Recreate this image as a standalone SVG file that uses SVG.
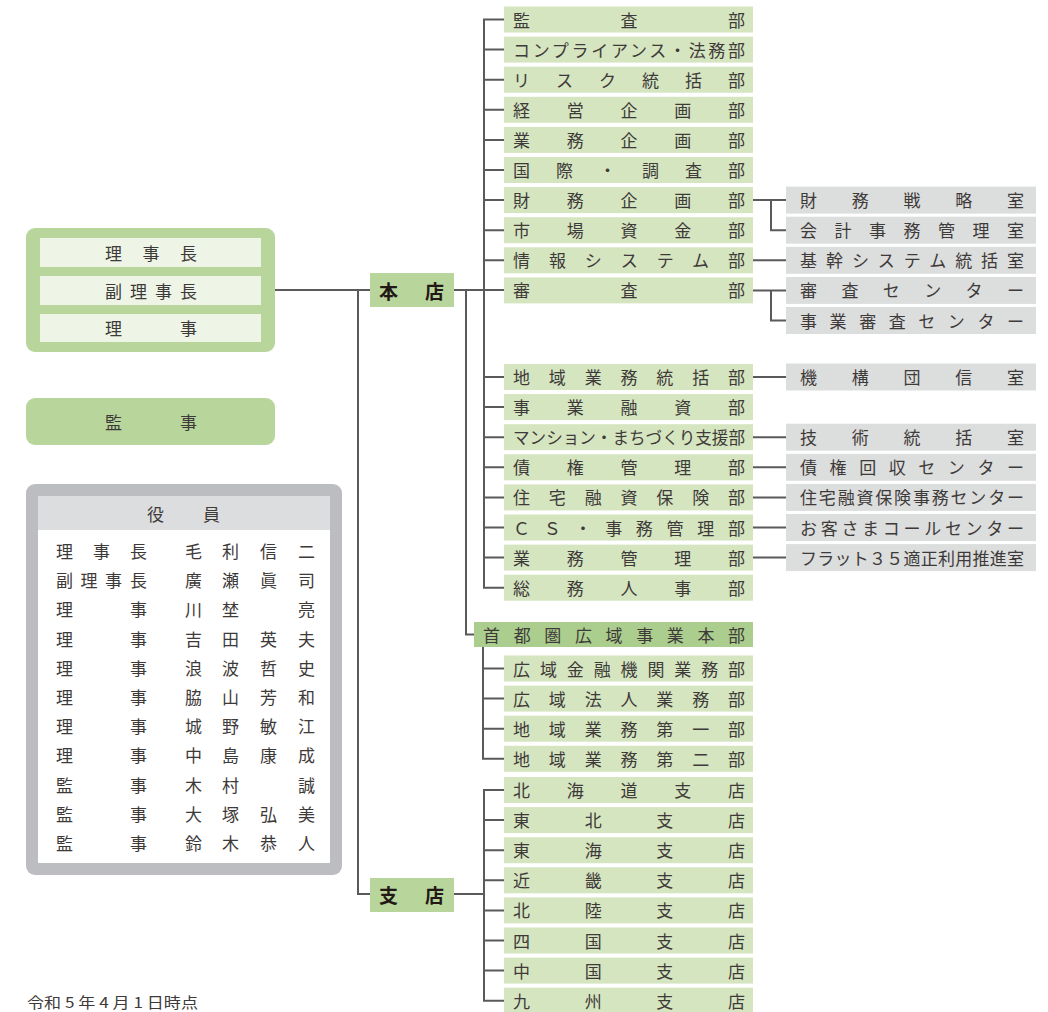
<svg xmlns="http://www.w3.org/2000/svg" width="1048" height="1012" viewBox="0 0 1048 1012">
<style>
text{font-family:"Noto Sans CJK JP","Noto Sans CJK SC",sans-serif;fill:#3e3a39;font-size:17px;dominant-baseline:central}
.dept{fill:#d5e5c0}
.sub{fill:#dcdddd}
.dark{fill:#b8d59c}
.hq{fill:#abcd8d}
.inner{fill:#eef4e6}
.bold{font-weight:bold;font-size:19px;fill:#231815}
.ln{fill:none;stroke:#5a5a5a;stroke-width:2}
</style>
<rect width="1048" height="1012" fill="#ffffff"/>

<g id="connectors">
<path class="ln" d="M275 290H370"/>
<path class="ln" d="M358 290V894H370"/>
<path class="ln" d="M454 290H504"/>
<path class="ln" d="M504 19.5H484V587.7H504"/>
<path class="ln" d="M484 49.6H504M484 79.7H504M484 109.8H504M484 139.9H504M484 170H504M484 200.1H504M484 230.2H504M484 260.3H504"/>
<path class="ln" d="M484 377H504M484 407.1H504M484 437.2H504M484 467.3H504M484 497.4H504M484 527.5H504M484 557.6H504"/>
<path class="ln" d="M466 290V634.5H474"/>
<path class="ln" d="M483 647V758.8H504M483 668.5H504M483 698.6H504M483 728.7H504"/>
<path class="ln" d="M454 894H484"/>
<path class="ln" d="M504 790H484V1000.7H504"/>
<path class="ln" d="M484 820.1H504M484 850.2H504M484 880.3H504M484 910.4H504M484 940.5H504M484 970.6H504"/>
<path class="ln" d="M753 200.1H786M771 200.1V230.2H786"/>
<path class="ln" d="M753 260.3H786"/>
<path class="ln" d="M753 290.4H786M771 290.4V320.5H786"/>
<path class="ln" d="M753 377H786M753 437.2H786M753 467.3H786M753 497.4H786M753 527.5H786M753 557.6H786"/>
</g>

<g id="exec">
<rect x="26" y="228" width="249" height="124" rx="9" class="dark"/>
<rect x="40" y="238" width="221" height="29" class="inner"/>
<rect x="40" y="276" width="221" height="29" class="inner"/>
<rect x="40" y="314" width="221" height="28" class="inner"/>
<text x="105" y="252" textLength="92" lengthAdjust="spacing">理事長</text>
<text x="105" y="290" textLength="92" lengthAdjust="spacing">副理事長</text>
<text x="105" y="327.5" textLength="92" lengthAdjust="spacing">理事</text>
</g>

<g id="kanji">
<rect x="26" y="398" width="249" height="47" rx="9" class="dark"/>
<text x="105" y="421" textLength="92" lengthAdjust="spacing">監事</text>
</g>

<g id="yakuin">
<rect x="26" y="484" width="316" height="391" rx="9" fill="#bcbdc0"/>
<rect x="38" y="496" width="292" height="367" fill="#ffffff"/>
<rect x="38" y="496" width="292" height="34" fill="#dcdddf"/>
<text x="147 203" y="513.5">役員</text>
<text x="56 93 130" y="550.5">理事長</text>
<text x="56 80.5 105 130" y="579.7">副理事長</text>
<text x="56 130" y="608.9">理事</text>
<text x="56 130" y="638.1">理事</text>
<text x="56 130" y="667.3">理事</text>
<text x="56 130" y="696.5">理事</text>
<text x="56 130" y="725.7">理事</text>
<text x="56 130" y="754.9">理事</text>
<text x="56 130" y="784.1">監事</text>
<text x="56 130" y="813.3">監事</text>
<text x="56 130" y="842.5">監事</text>
<text x="185 222 260 298" y="550.5">毛利信二</text>
<text x="185 222 260 298" y="579.7">廣瀬眞司</text>
<text x="185 222 298" y="608.9">川埜亮</text>
<text x="185 222 260 298" y="638.1">吉田英夫</text>
<text x="185 222 260 298" y="667.3">浪波哲史</text>
<text x="185 222 260 298" y="696.5">脇山芳和</text>
<text x="185 222 260 298" y="725.7">城野敏江</text>
<text x="185 222 260 298" y="754.9">中島康成</text>
<text x="185 222 298" y="784.1">木村誠</text>
<text x="185 222 260 298" y="813.3">大塚弘美</text>
<text x="185 222 260 298" y="842.5">鈴木恭人</text>
</g>

<g id="honten">
<rect x="370" y="273" width="84" height="34" class="dark"/>
<text x="379" y="290" textLength="65" lengthAdjust="spacing" class="bold">本店</text>
</g>
<g id="shiten">
<rect x="370" y="878" width="84" height="34" class="dark"/>
<text x="379" y="894.5" textLength="65" lengthAdjust="spacing" class="bold">支店</text>
</g>

<g id="depts">
<rect x="504" y="6.5" width="249" height="26" class="dept"/><text x="513" y="19" textLength="232" lengthAdjust="spacing">監査部</text>
<rect x="504" y="36.6" width="249" height="26" class="dept"/><text x="513" y="49.1" textLength="232" lengthAdjust="spacing">コンプライアンス・法務部</text>
<rect x="504" y="66.7" width="249" height="26" class="dept"/><text x="513" y="79.2" textLength="232" lengthAdjust="spacing">リスク統括部</text>
<rect x="504" y="96.8" width="249" height="26" class="dept"/><text x="513" y="109.3" textLength="232" lengthAdjust="spacing">経営企画部</text>
<rect x="504" y="126.9" width="249" height="26" class="dept"/><text x="513" y="139.4" textLength="232" lengthAdjust="spacing">業務企画部</text>
<rect x="504" y="157" width="249" height="26" class="dept"/><text x="513" y="169.5" textLength="232" lengthAdjust="spacing">国際・調査部</text>
<rect x="504" y="187.1" width="249" height="26" class="dept"/><text x="513" y="199.6" textLength="232" lengthAdjust="spacing">財務企画部</text>
<rect x="504" y="217.2" width="249" height="26" class="dept"/><text x="513" y="229.7" textLength="232" lengthAdjust="spacing">市場資金部</text>
<rect x="504" y="247.3" width="249" height="26" class="dept"/><text x="513" y="259.8" textLength="232" lengthAdjust="spacing">情報システム部</text>
<rect x="504" y="277.4" width="249" height="26" class="dept"/><text x="513" y="289.9" textLength="232" lengthAdjust="spacing">審査部</text>

<rect x="504" y="364" width="249" height="26" class="dept"/><text x="513" y="376.5" textLength="232" lengthAdjust="spacing">地域業務統括部</text>
<rect x="504" y="394.1" width="249" height="26" class="dept"/><text x="513" y="406.6" textLength="232" lengthAdjust="spacing">事業融資部</text>
<rect x="504" y="424.2" width="249" height="26" class="dept"/><text x="513" y="436.7" textLength="232" lengthAdjust="spacingAndGlyphs">マンション・まちづくり支援部</text>
<rect x="504" y="454.3" width="249" height="26" class="dept"/><text x="513" y="466.8" textLength="232" lengthAdjust="spacing">債権管理部</text>
<rect x="504" y="484.4" width="249" height="26" class="dept"/><text x="513" y="496.9" textLength="232" lengthAdjust="spacing">住宅融資保険部</text>
<rect x="504" y="514.5" width="249" height="26" class="dept"/><text x="513" y="527" textLength="232" lengthAdjust="spacing">ＣＳ・事務管理部</text>
<rect x="504" y="544.6" width="249" height="26" class="dept"/><text x="513" y="557.1" textLength="232" lengthAdjust="spacing">業務管理部</text>
<rect x="504" y="574.7" width="249" height="26" class="dept"/><text x="513" y="587.2" textLength="232" lengthAdjust="spacing">総務人事部</text>
</g>

<g id="shutoken">
<rect x="474" y="622" width="279" height="25" class="hq"/>
<text x="483" y="634" textLength="262" lengthAdjust="spacing">首都圏広域事業本部</text>
<rect x="504" y="655.5" width="249" height="26" class="dept"/><text x="513" y="668" textLength="232" lengthAdjust="spacing">広域金融機関業務部</text>
<rect x="504" y="685.6" width="249" height="26" class="dept"/><text x="513" y="698.1" textLength="232" lengthAdjust="spacing">広域法人業務部</text>
<rect x="504" y="715.7" width="249" height="26" class="dept"/><text x="513" y="728.2" textLength="232" lengthAdjust="spacing">地域業務第一部</text>
<rect x="504" y="745.8" width="249" height="26" class="dept"/><text x="513" y="758.3" textLength="232" lengthAdjust="spacing">地域業務第二部</text>
</g>

<g id="branches">
<rect x="504" y="777" width="249" height="26" class="dept"/><text x="513" y="789.5" textLength="232" lengthAdjust="spacing">北海道支店</text>
<rect x="504" y="807.1" width="249" height="26" class="dept"/><text x="513" y="819.6" textLength="232" lengthAdjust="spacing">東北支店</text>
<rect x="504" y="837.2" width="249" height="26" class="dept"/><text x="513" y="849.7" textLength="232" lengthAdjust="spacing">東海支店</text>
<rect x="504" y="867.3" width="249" height="26" class="dept"/><text x="513" y="879.8" textLength="232" lengthAdjust="spacing">近畿支店</text>
<rect x="504" y="897.4" width="249" height="26" class="dept"/><text x="513" y="909.9" textLength="232" lengthAdjust="spacing">北陸支店</text>
<rect x="504" y="927.5" width="249" height="26" class="dept"/><text x="513" y="940" textLength="232" lengthAdjust="spacing">四国支店</text>
<rect x="504" y="957.6" width="249" height="26" class="dept"/><text x="513" y="970.1" textLength="232" lengthAdjust="spacing">中国支店</text>
<rect x="504" y="987.7" width="249" height="26" class="dept"/><text x="513" y="1000.2" textLength="232" lengthAdjust="spacing">九州支店</text>
</g>

<g id="offices">
<rect x="786" y="186.6" width="250" height="27" class="sub"/><text x="800" y="199.6" textLength="224" lengthAdjust="spacing">財務戦略室</text>
<rect x="786" y="216.7" width="250" height="27" class="sub"/><text x="800" y="229.7" textLength="224" lengthAdjust="spacing">会計事務管理室</text>
<rect x="786" y="246.8" width="250" height="27" class="sub"/><text x="800" y="259.8" textLength="224" lengthAdjust="spacing">基幹システム統括室</text>
<rect x="786" y="276.9" width="250" height="27" class="sub"/><text x="800" y="289.9" textLength="224" lengthAdjust="spacing">審査センター</text>
<rect x="786" y="307" width="250" height="27" class="sub"/><text x="800" y="320" textLength="224" lengthAdjust="spacing">事業審査センター</text>
<rect x="786" y="363.5" width="250" height="27" class="sub"/><text x="800" y="376.5" textLength="224" lengthAdjust="spacing">機構団信室</text>
<rect x="786" y="423.7" width="250" height="27" class="sub"/><text x="800" y="436.7" textLength="224" lengthAdjust="spacing">技術統括室</text>
<rect x="786" y="453.8" width="250" height="27" class="sub"/><text x="800" y="466.8" textLength="224" lengthAdjust="spacing">債権回収センター</text>
<rect x="786" y="483.9" width="250" height="27" class="sub"/><text x="800" y="496.9" textLength="224" lengthAdjust="spacing">住宅融資保険事務センター</text>
<rect x="786" y="514" width="250" height="27" class="sub"/><text x="800" y="527" textLength="224" lengthAdjust="spacing">お客さまコールセンター</text>
<rect x="786" y="544.1" width="250" height="27" class="sub"/><text x="800" y="557.1" textLength="224" lengthAdjust="spacing">フラット３５適正利用推進室</text>
</g>

<text x="27" y="1001" textLength="171" lengthAdjust="spacingAndGlyphs" style="font-size:15px">令和 5 年 4 月 1 日時点</text>
</svg>
